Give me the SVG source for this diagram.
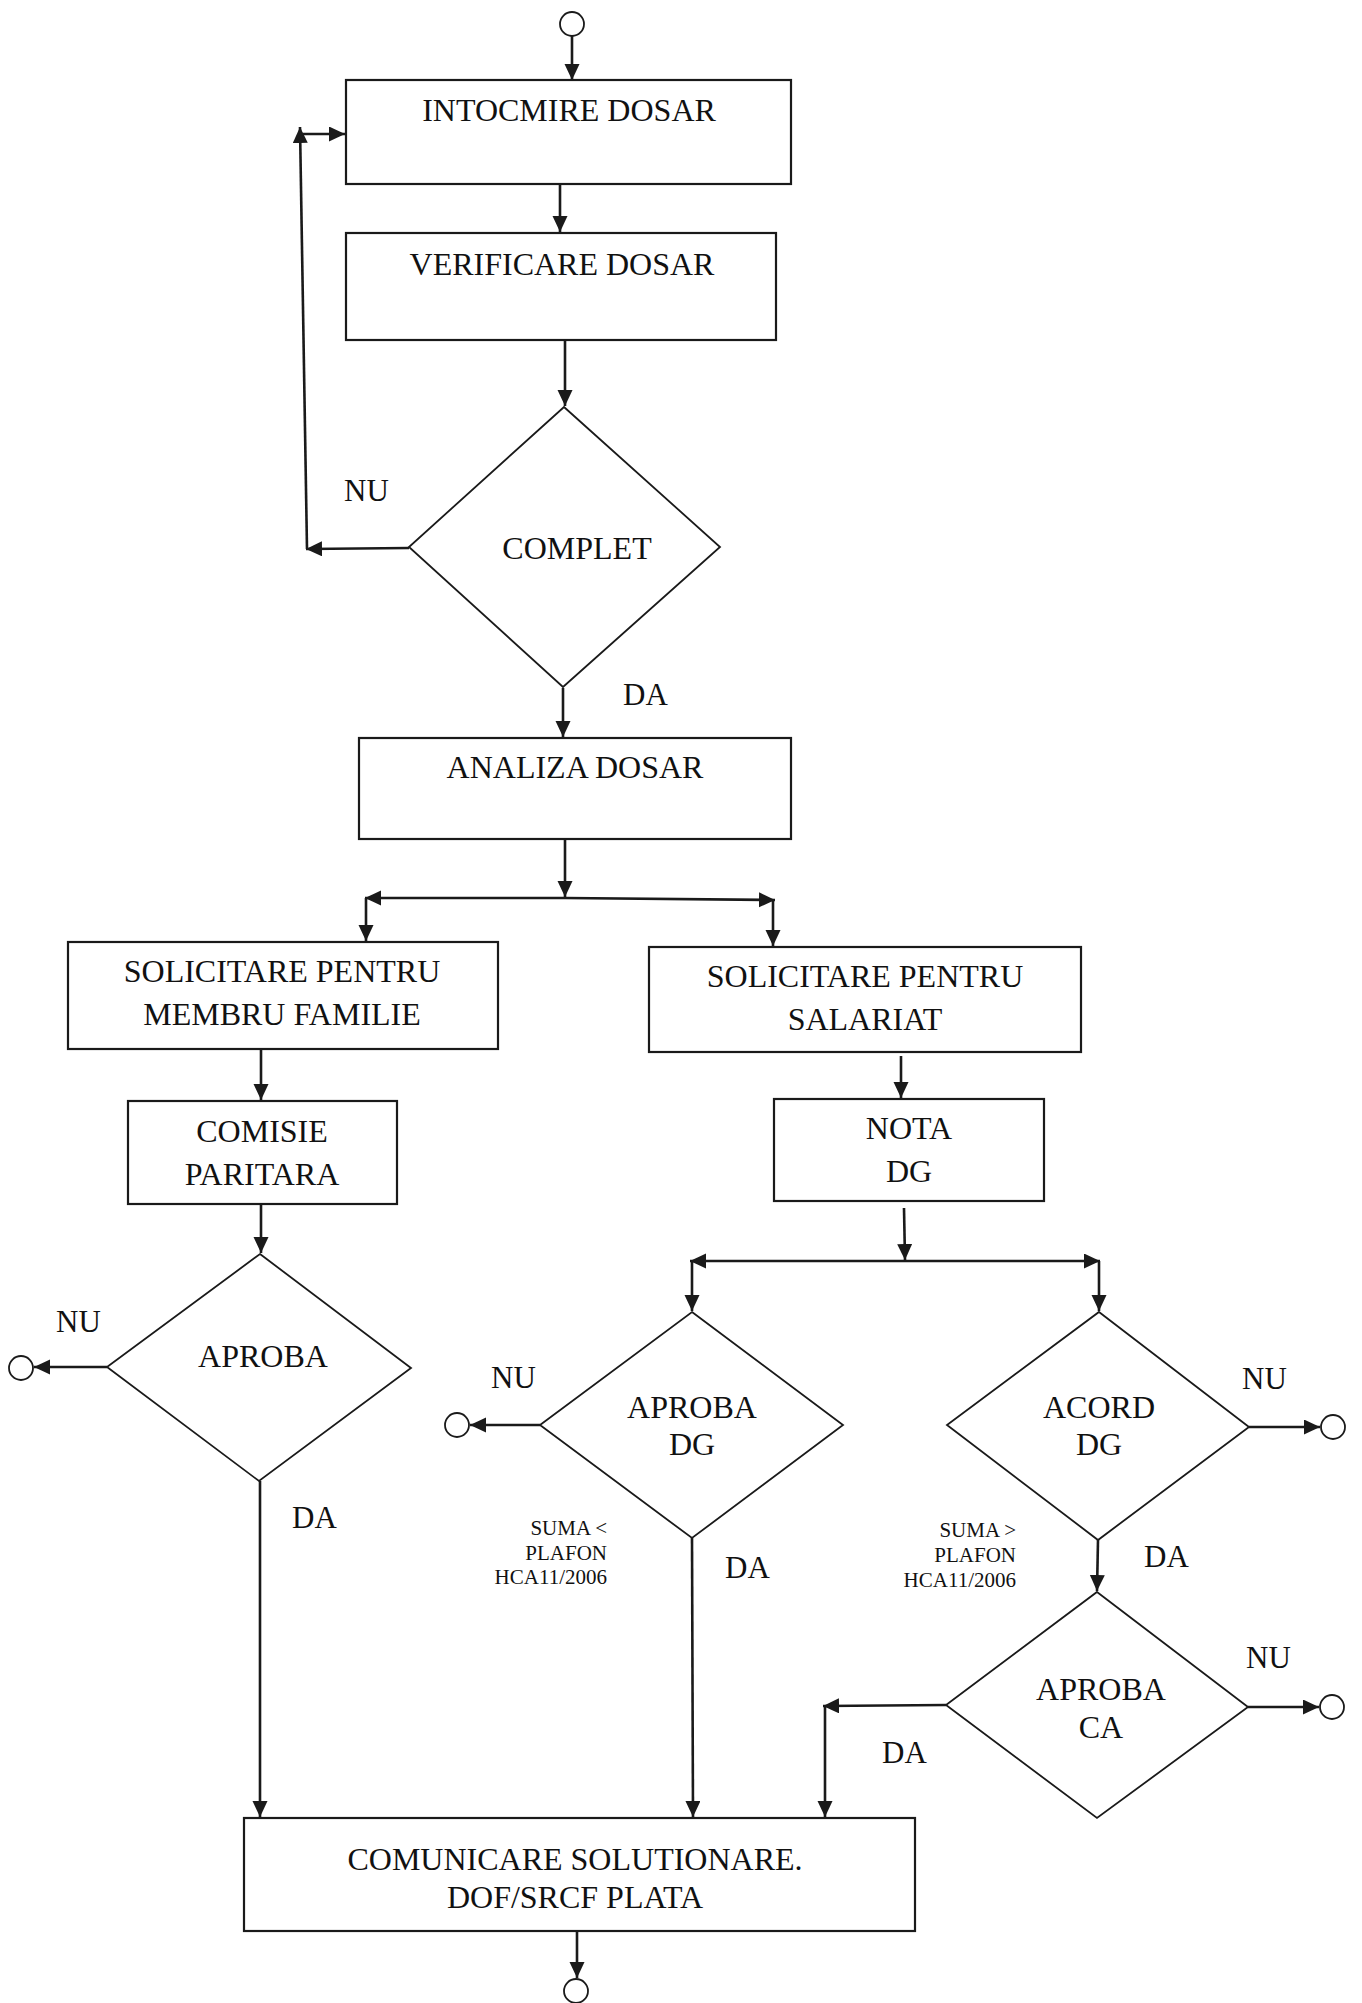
<svg xmlns="http://www.w3.org/2000/svg" width="1362" height="2003" viewBox="0 0 1362 2003">
<style>
.box{fill:#fff;stroke:#1a1a1a;stroke-width:2.2}
.dia{fill:#fff;stroke:#1a1a1a;stroke-width:1.8}
.term{fill:#fff;stroke:#1a1a1a;stroke-width:1.8}
.t{font-family:"Liberation Serif","Times New Roman",serif;font-size:32px;fill:#111;text-anchor:middle}
.l{font-family:"Liberation Serif","Times New Roman",serif;font-size:31px;fill:#111}
.s{font-family:"Liberation Serif","Times New Roman",serif;font-size:21px;fill:#111;text-anchor:end}
.c{fill:none;stroke:#1a1a1a;stroke-width:2.6}
.a{marker-end:url(#arr)}
</style>
<defs>
<marker id="arr" markerUnits="userSpaceOnUse" markerWidth="17" markerHeight="16" refX="16" refY="7.5" orient="auto">
<path d="M0,0 L16,7.5 L0,15 z" fill="#1a1a1a"/>
</marker>
</defs>

<g id="start"><circle class="term" cx="572" cy="24" r="12"/></g>

<g id="intocmire">
<rect class="box" x="346" y="80" width="445" height="104"/>
<text class="t" x="569" y="121">INTOCMIRE DOSAR</text>
</g>
<g id="verificare">
<rect class="box" x="346" y="233" width="430" height="107"/>
<text class="t" x="562" y="275">VERIFICARE DOSAR</text>
</g>
<g id="complet">
<polygon class="dia" points="564,407 720,547 563,687 409,547"/>
<text class="t" x="577" y="559">COMPLET</text>
</g>
<g id="analiza">
<rect class="box" x="359" y="738" width="432" height="101"/>
<text class="t" x="575" y="778">ANALIZA DOSAR</text>
</g>
<g id="sol-membru">
<rect class="box" x="68" y="942" width="430" height="107"/>
<text class="t" x="282" y="982">SOLICITARE PENTRU</text>
<text class="t" x="282" y="1025">MEMBRU FAMILIE</text>
</g>
<g id="sol-salariat">
<rect class="box" x="649" y="947" width="432" height="105"/>
<text class="t" x="865" y="987">SOLICITARE PENTRU</text>
<text class="t" x="865" y="1030">SALARIAT</text>
</g>
<g id="comisie">
<rect class="box" x="128" y="1101" width="269" height="103"/>
<text class="t" x="262" y="1142">COMISIE</text>
<text class="t" x="262" y="1185">PARITARA</text>
</g>
<g id="nota">
<rect class="box" x="774" y="1099" width="270" height="102"/>
<text class="t" x="909" y="1139">NOTA</text>
<text class="t" x="909" y="1182">DG</text>
</g>
<g id="aproba">
<polygon class="dia" points="260,1254 411,1368 259,1481 107,1367"/>
<text class="t" x="263" y="1367">APROBA</text>
</g>
<g id="aproba-dg">
<polygon class="dia" points="692,1312 843,1425 692,1538 540,1425"/>
<text class="t" x="692" y="1418">APROBA</text>
<text class="t" x="692" y="1455">DG</text>
</g>
<g id="acord-dg">
<polygon class="dia" points="1099,1312 1249,1427 1098,1540 947,1425"/>
<text class="t" x="1099" y="1418">ACORD</text>
<text class="t" x="1099" y="1455">DG</text>
</g>
<g id="aproba-ca">
<polygon class="dia" points="1097,1592 1248,1707 1097,1818 946,1705"/>
<text class="t" x="1101" y="1700">APROBA</text>
<text class="t" x="1101" y="1738">CA</text>
</g>
<g id="comunicare">
<rect class="box" x="244" y="1818" width="671" height="113"/>
<text class="t" x="575" y="1870">COMUNICARE SOLUTIONARE.</text>
<text class="t" x="575" y="1908">DOF/SRCF PLATA</text>
</g>
<g id="end-aproba"><circle class="term" cx="21" cy="1368" r="12"/></g>
<g id="end-aproba-dg"><circle class="term" cx="457" cy="1425" r="12"/></g>
<g id="end-acord-dg"><circle class="term" cx="1333" cy="1427" r="12"/></g>
<g id="end-aproba-ca"><circle class="term" cx="1332" cy="1707" r="12"/></g>
<g id="end"><circle class="term" cx="576" cy="1991" r="12"/></g>

<g id="connectors">
<line class="c a" x1="572" y1="36" x2="572" y2="80"/>
<line class="c a" x1="560" y1="184" x2="560" y2="232"/>
<line class="c a" x1="565" y1="340" x2="565" y2="406"/>
<line class="c a" x1="409" y1="548" x2="306" y2="549"/>
<line class="c a" x1="307" y1="549" x2="300" y2="127"/>
<line class="c a" x1="300" y1="134" x2="345" y2="134"/>
<line class="c a" x1="563" y1="688" x2="563" y2="737"/>
<line class="c a" x1="565" y1="839" x2="565" y2="897"/>
<line class="c a" x1="565" y1="898" x2="365" y2="898"/>
<line class="c a" x1="565" y1="898" x2="775" y2="900"/>
<line class="c a" x1="366" y1="898" x2="366" y2="941"/>
<line class="c a" x1="773" y1="900" x2="773" y2="946"/>
<line class="c a" x1="261" y1="1049" x2="261" y2="1100"/>
<line class="c a" x1="261" y1="1204" x2="261" y2="1253"/>
<line class="c a" x1="107" y1="1367" x2="34" y2="1367"/>
<line class="c a" x1="260" y1="1481" x2="260" y2="1817"/>
<line class="c a" x1="901" y1="1056" x2="901" y2="1098"/>
<line class="c a" x1="904" y1="1208" x2="905" y2="1260"/>
<line class="c a" x1="905" y1="1261" x2="690" y2="1261"/>
<line class="c a" x1="905" y1="1261" x2="1100" y2="1261"/>
<line class="c a" x1="692" y1="1261" x2="692" y2="1311"/>
<line class="c a" x1="1099" y1="1261" x2="1099" y2="1311"/>
<line class="c a" x1="540" y1="1425" x2="470" y2="1425"/>
<line class="c a" x1="692" y1="1538" x2="693" y2="1817"/>
<line class="c a" x1="1249" y1="1427" x2="1320" y2="1427"/>
<line class="c a" x1="1098" y1="1540" x2="1097" y2="1591"/>
<line class="c a" x1="1248" y1="1707" x2="1319" y2="1707"/>
<line class="c a" x1="946" y1="1705" x2="823" y2="1706"/>
<line class="c a" x1="825" y1="1706" x2="825" y2="1817"/>
<line class="c a" x1="577" y1="1931" x2="577" y2="1978"/>
</g>

<g id="labels">
<text class="l" x="344" y="501">NU</text>
<text class="l" x="623" y="705">DA</text>
<text class="l" x="56" y="1332">NU</text>
<text class="l" x="292" y="1528">DA</text>
<text class="l" x="491" y="1388">NU</text>
<text class="l" x="725" y="1578">DA</text>
<text class="l" x="1242" y="1389">NU</text>
<text class="l" x="1144" y="1567">DA</text>
<text class="l" x="1246" y="1668">NU</text>
<text class="l" x="882" y="1763">DA</text>
<text class="s" x="607" y="1535">SUMA &lt;</text>
<text class="s" x="607" y="1560">PLAFON</text>
<text class="s" x="607" y="1584">HCA11/2006</text>
<text class="s" x="1016" y="1537">SUMA &gt;</text>
<text class="s" x="1016" y="1562">PLAFON</text>
<text class="s" x="1016" y="1587">HCA11/2006</text>
</g>
</svg>
